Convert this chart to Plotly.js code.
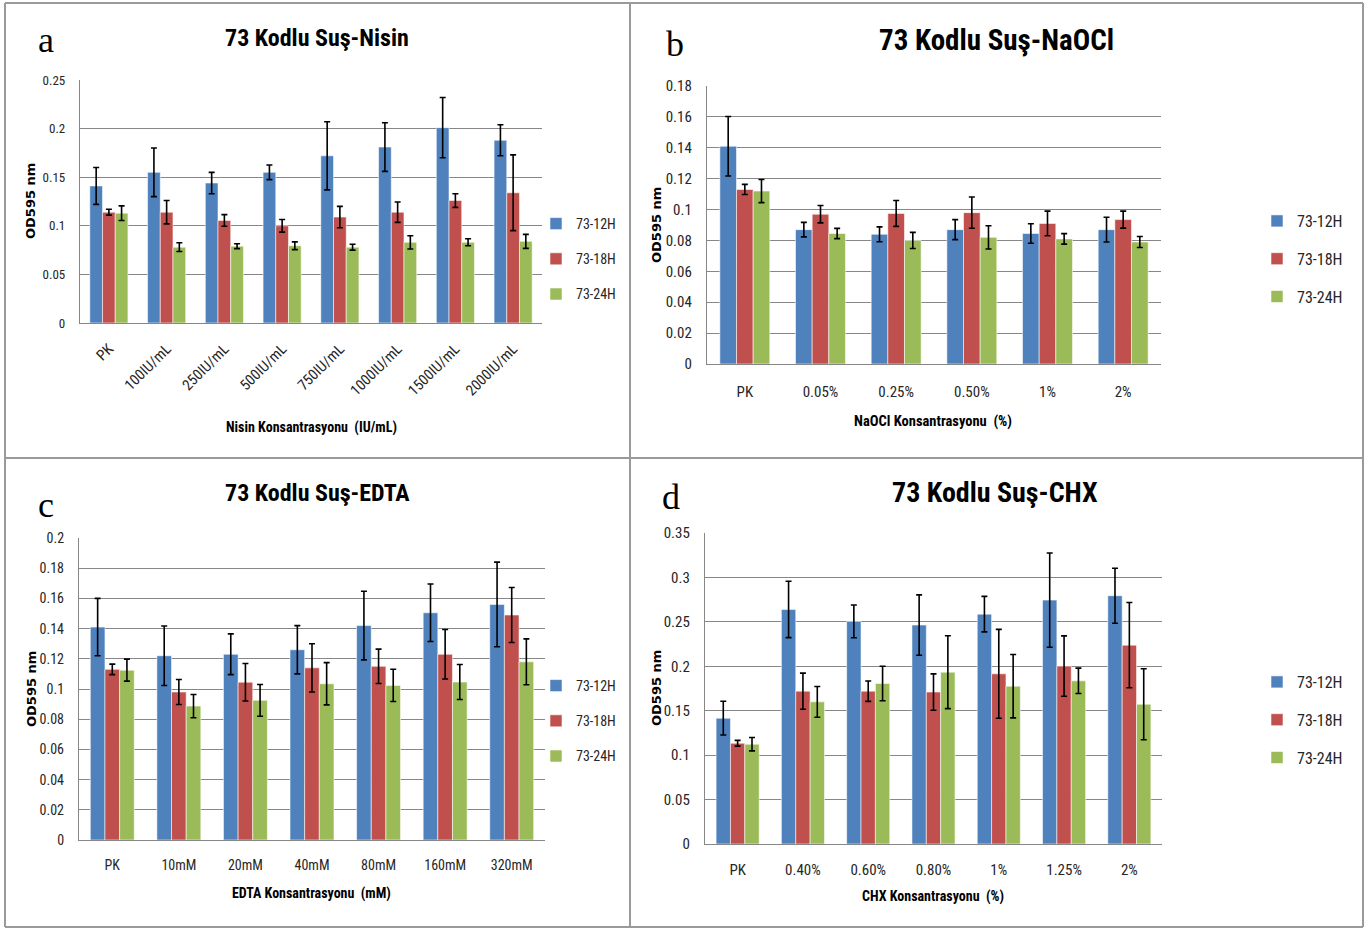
<!DOCTYPE html>
<html>
<head>
<meta charset="utf-8">
<script src="https://cdn.plot.ly/plotly-3.0.1.min.js"></script>
<style>html,body{margin:0;padding:0;background:#fff;}#chart{width:1370px;height:928px;}</style>
</head>
<body>
<div id="chart"></div>
<script>
// ---------- DATA ----------
const seriesNames = ['73-12H', '73-18H', '73-24H'];

const nisinCats = ['PK', '100IU/mL', '250IU/mL', '500IU/mL', '750IU/mL', '1000IU/mL', '1500IU/mL', '2000IU/mL'];
const nisin12 = [0.141, 0.155, 0.144, 0.155, 0.172, 0.181, 0.201, 0.188];
const nisin12Err = [0.019, 0.025, 0.011, 0.0075, 0.035, 0.025, 0.031, 0.016];
const nisin18 = [0.114, 0.114, 0.1055, 0.100, 0.109, 0.114, 0.126, 0.134];
const nisin18Err = [0.003, 0.012, 0.006, 0.0065, 0.011, 0.0105, 0.007, 0.039];
const nisin24 = [0.113, 0.078, 0.079, 0.0795, 0.078, 0.083, 0.083, 0.084];
const nisin24Err = [0.0075, 0.0045, 0.0025, 0.004, 0.003, 0.0068, 0.0036, 0.0072];

const naoclCats = ['PK', '0.05%', '0.25%', '0.50%', '1%', '2%'];
const naocl12 = [0.141, 0.087, 0.084, 0.087, 0.0845, 0.087];
const naocl12Err = [0.0193, 0.0047, 0.0048, 0.0065, 0.0063, 0.008];
const naocl18 = [0.113, 0.097, 0.0975, 0.098, 0.091, 0.0935];
const naocl18Err = [0.0033, 0.0056, 0.0084, 0.0101, 0.008, 0.0055];
const naocl24 = [0.112, 0.0845, 0.080, 0.082, 0.081, 0.079];
const naocl24Err = [0.0075, 0.0033, 0.0052, 0.0075, 0.0034, 0.0036];

const edtaCats = ['PK', '10mM', '20mM', '40mM', '80mM', '160mM', '320mM'];
const edta12 = [0.141, 0.122, 0.123, 0.126, 0.142, 0.1505, 0.156];
const edta12Err = [0.019, 0.0197, 0.0135, 0.016, 0.0227, 0.019, 0.028];
const edta18 = [0.113, 0.098, 0.1045, 0.114, 0.115, 0.123, 0.149];
const edta18Err = [0.0035, 0.0083, 0.0124, 0.016, 0.0114, 0.0164, 0.0182];
const edta24 = [0.1125, 0.0887, 0.0925, 0.1035, 0.1024, 0.1046, 0.118];
const edta24Err = [0.0073, 0.0077, 0.0105, 0.014, 0.0107, 0.0116, 0.0152];

const chxCats = ['PK', '0.40%', '0.60%', '0.80%', '1%', '1.25%', '2%'];
const chx12 = [0.1416, 0.264, 0.2505, 0.2464, 0.2587, 0.2745, 0.2794];
const chx12Err = [0.019, 0.0317, 0.0184, 0.034, 0.02, 0.053, 0.031];
const chx18 = [0.1134, 0.172, 0.172, 0.171, 0.1915, 0.2002, 0.2238];
const chx18Err = [0.0032, 0.0203, 0.0115, 0.0205, 0.05, 0.034, 0.048];
const chx24 = [0.1123, 0.160, 0.1806, 0.1934, 0.1776, 0.1836, 0.1573];
const chx24Err = [0.0075, 0.0173, 0.0194, 0.041, 0.0357, 0.0143, 0.04];

const panelTitles = ['73 Kodlu Suş-Nisin', '73 Kodlu Suş-NaOCl', '73 Kodlu Suş-EDTA', '73 Kodlu Suş-CHX'];
const panelLetters = ['a', 'b', 'c', 'd'];
const xTitles = ['Nisin Konsantrasyonu  (IU/mL)', 'NaOCl Konsantrasyonu  (%)', 'EDTA Konsantrasyonu  (mM)', 'CHX Konsantrasyonu  (%)'];
const yTitle = 'OD595 nm';

// ---------- STYLE / LAYOUT ----------
const W = 1370, H = 928;
const colors = ['#4F81BD', '#C0504D', '#9BBB59'];
const NARROW = '"Liberation Sans Narrow", "Arial Narrow", "Roboto Condensed", "Liberation Sans", Arial, sans-serif';
const SERIF = '"Liberation Serif", "Times New Roman", serif';
const BOLDSANS = '"DejaVu Sans", Verdana, sans-serif';
const gridCol = '#878787';

const px = x => x / W;
const py = y => 1 - y / H;

const panels = [
  {cats: nisinCats, vals: [nisin12, nisin18, nisin24], errs: [nisin12Err, nisin18Err, nisin24Err],
   box: [80, 542, 80, 323], range: [0, 0.25], dtick: 0.05, angle: -45, tickSize: 13, xTickSize: 15, xStand: 10,
   legX: 536, legY: 259, legFont: 14, title: [317, 38, 24], letter: [46, 40], xt: [311, 427], yt: [31, 201], xtSize: 14},
  {cats: naoclCats, vals: [naocl12, naocl18, naocl24], errs: [naocl12Err, naocl18Err, naocl24Err],
   box: [707, 1161, 86, 364], range: [0, 0.18], dtick: 0.02, angle: 0, tickSize: 15, xTickSize: 15, xStand: 14,
   legX: 1257, legY: 259, legFont: 16, title: [996, 40, 29], letter: [675, 44], xt: [933, 421], yt: [656, 225], xtSize: 14.5},
  {cats: edtaCats, vals: [edta12, edta18, edta24], errs: [edta12Err, edta18Err, edta24Err],
   box: [79, 545, 538, 840], range: [0, 0.2], dtick: 0.02, angle: 0, tickSize: 14, xTickSize: 14, xStand: 12,
   legX: 536, legY: 721, legFont: 14, title: [317, 493, 24], letter: [46, 505], xt: [311, 893], yt: [31, 689], xtSize: 14},
  {cats: chxCats, vals: [chx12, chx18, chx24], errs: [chx12Err, chx18Err, chx24Err],
   box: [705, 1162, 533, 844], range: [0, 0.35], dtick: 0.05, angle: 0, tickSize: 15, xTickSize: 15, xStand: 12,
   legX: 1257, legY: 720, legFont: 16, title: [995, 492, 28], letter: [671, 497], xt: [933, 896], yt: [656, 688], xtSize: 14}
];

const data = [];
const layout = {
  width: W, height: H,
  margin: {l: 0, r: 0, t: 0, b: 0},
  paper_bgcolor: '#ffffff', plot_bgcolor: '#ffffff',
  barmode: 'group', bargap: 0.34, bargroupgap: 0,
  showlegend: true,
  annotations: [], shapes: []
};

panels.forEach((p, i) => {
  const sfx = i === 0 ? '' : String(i + 1);
  const xa = 'x' + sfx, ya = 'y' + sfx;
  const legName = 'legend' + sfx;
  for (let s = 0; s < 3; s++) {
    data.push({
      type: 'bar', name: seriesNames[s], x: p.cats, y: p.vals[s],
      xaxis: xa, yaxis: ya, legend: legName, legendgroup: 'g' + i + '_' + s,
      marker: {color: colors[s], line: {color: 'rgba(255,255,255,0.55)', width: 1}},
      error_y: {type: 'data', array: p.errs[s], visible: true, color: '#000000', thickness: 1.6, width: 3},
      hoverinfo: 'x+y+name'
    });
  }
  layout['xaxis' + sfx] = {
    domain: [px(p.box[0]), px(p.box[1])], anchor: ya,
    type: 'category', showgrid: false, zeroline: false,
    showline: true, linecolor: gridCol, linewidth: 1.3,
    ticks: '', tickangle: p.angle, ticklabelstandoff: p.xStand,
    tickfont: {family: NARROW, size: p.xTickSize, color: '#262626'},
    fixedrange: true
  };
  layout['yaxis' + sfx] = {
    domain: [py(p.box[3]), py(p.box[2])], anchor: xa,
    range: p.range, dtick: p.dtick, tick0: 0,
    showgrid: true, gridcolor: gridCol, gridwidth: 1.3, zeroline: false,
    showline: true, linecolor: gridCol, linewidth: 1.3,
    ticks: '', ticklabelstandoff: 11,
    tickfont: {family: NARROW, size: p.tickSize, color: '#262626'},
    fixedrange: true
  };
  layout[legName] = {
    x: px(p.legX), y: py(p.legY), xanchor: 'left', yanchor: 'middle',
    xref: 'paper', yref: 'paper',
    bgcolor: 'rgba(0,0,0,0)', borderwidth: 0,
    font: {family: NARROW, size: p.legFont, color: '#262626'},
    traceorder: 'grouped', tracegroupgap: 14
  };
  // panel title
  layout.annotations.push({
    text: '<b>' + panelTitles[i] + '</b>', xref: 'paper', yref: 'paper',
    x: px(p.title[0]), y: py(p.title[1]), xanchor: 'center', yanchor: 'middle', showarrow: false,
    font: {family: NARROW, size: p.title[2], color: '#000'}
  });
  // panel letter
  layout.annotations.push({
    text: panelLetters[i], xref: 'paper', yref: 'paper',
    x: px(p.letter[0]), y: py(p.letter[1]), xanchor: 'center', yanchor: 'middle', showarrow: false,
    font: {family: SERIF, size: 36, color: '#000'}
  });
  // x axis title
  layout.annotations.push({
    text: '<b>' + xTitles[i] + '</b>', xref: 'paper', yref: 'paper',
    x: px(p.xt[0]), y: py(p.xt[1]), xanchor: 'center', yanchor: 'middle', showarrow: false,
    font: {family: NARROW, size: p.xtSize, color: '#000'}
  });
  // y axis title
  layout.annotations.push({
    text: '<b>' + yTitle + '</b>', xref: 'paper', yref: 'paper', textangle: -90,
    x: px(p.yt[0]), y: py(p.yt[1]), xanchor: 'center', yanchor: 'middle', showarrow: false,
    font: {family: BOLDSANS, size: 13, color: '#000'}
  });
});

// panel frame lines
const frameCol = '#9a9a9a';
const frame = [
  [5, 3, 1363, 3], [5, 927, 1363, 927], [5, 3, 5, 927], [1363, 3, 1363, 927],
  [630, 3, 630, 927], [5, 458, 1363, 458]
];
frame.forEach(f => layout.shapes.push({
  type: 'line', xref: 'paper', yref: 'paper',
  x0: px(f[0]), y0: py(f[1]), x1: px(f[2]), y1: py(f[3]),
  line: {color: frameCol, width: 2}
}));

Plotly.newPlot('chart', data, layout, {displayModeBar: false, responsive: false});
</script>
</body>
</html>
